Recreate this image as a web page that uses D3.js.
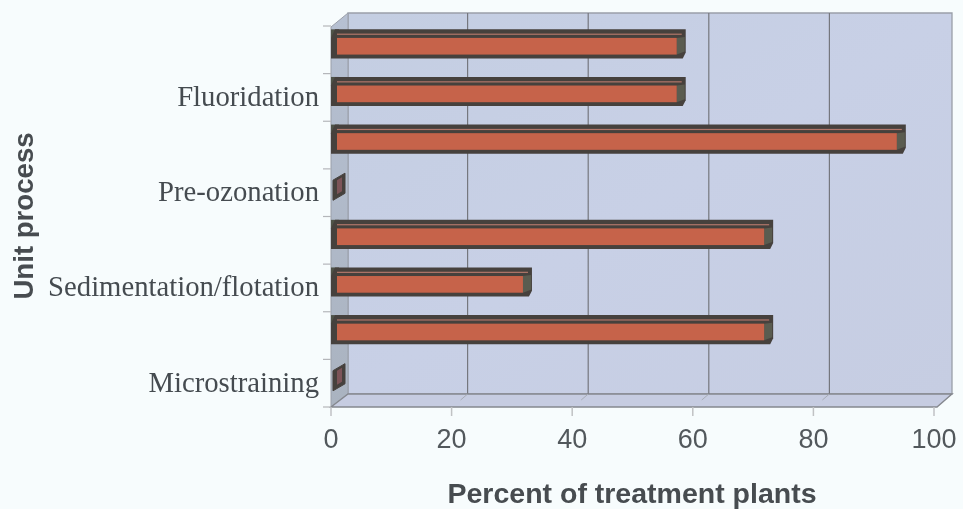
<!DOCTYPE html>
<html><head><meta charset="utf-8">
<script src="https://cdn.jsdelivr.net/npm/d3@7"></script>
<style>html,body{margin:0;padding:0;background:#f7fcfd}svg{display:block;filter:blur(0.45px)}</style>
</head><body><svg id="c" width="963" height="509"></svg>
<script>
const rows = ["r1","Fluoridation","r3","Pre-ozonation","r5","Sedimentation/flotation","r7","Microstraining"];
const labels = ["","Fluoridation","","Pre-ozonation","","Sedimentation/flotation","","Microstraining"];
const values = [57.5,57.5,94,0,72,32,72,0];
const xTicks = [0,20,40,60,80,100];
const xTitle = "Percent of treatment plants";
const yTitle = "Unit process";

const svg = d3.select("#c");
const x = d3.scaleLinear().domain([0,100]).range([331,934]);
const y = d3.scaleBand().domain(rows).range([26,407]);
const depthX = 17, depthY = 13;
const wallTop = 13, floorY = 407, wallRight = 952;
const defs = svg.append("defs");
const g1 = defs.append("linearGradient").attr("id","wall").attr("x1",0).attr("y1",0).attr("x2",1).attr("y2",1);
g1.append("stop").attr("offset",0).attr("stop-color","#c4cee2");
g1.append("stop").attr("offset",0.5).attr("stop-color","#c8d0e6");
g1.append("stop").attr("offset",1).attr("stop-color","#c6cde2");
const g2 = defs.append("linearGradient").attr("id","side").attr("x1",0).attr("y1",0).attr("x2",0).attr("y2",1);
g2.append("stop").attr("offset",0).attr("stop-color","#b6c0d2");
g2.append("stop").attr("offset",1).attr("stop-color","#aab3c0");

const poly = (pts,fill,stroke,sw) => svg.append("polygon").attr("points",pts.map(p=>p.join(",")).join(" "))
  .attr("fill",fill).attr("stroke",stroke||"none").attr("stroke-width",sw||0);
const x0 = x(0);
// walls and floor
poly([[x0+depthX,wallTop],[wallRight,wallTop],[wallRight,floorY-depthY],[x0+depthX,floorY-depthY]],"url(#wall)","#9a9fa9",1.3);
poly([[x0,wallTop+14],[x0+depthX,wallTop],[x0+depthX,floorY-depthY],[x0,floorY]],"url(#side)","#9a9fa9",1);
poly([[x0,floorY],[x0+depthX,floorY-depthY],[wallRight,floorY-depthY],[wallRight-15,floorY]],"#c6cce1","#85888f",1.4);
// gridlines
xTicks.slice(1,5).forEach(t=>{
  svg.append("line").attr("x1",x(t)+16).attr("x2",x(t)+16).attr("y1",wallTop).attr("y2",floorY-depthY).attr("stroke","#75777e").attr("stroke-width",1.2);
  svg.append("line").attr("x1",x(t)+16).attr("x2",x(t)+9).attr("y1",floorY-depthY).attr("y2",floorY-depthY+6).attr("stroke","#a8acb6").attr("stroke-width",1);
});
// ticks
xTicks.forEach(t=>svg.append("line").attr("x1",x(t)).attr("x2",x(t)).attr("y1",floorY).attr("y2",floorY+9).attr("stroke","#c0c2c4").attr("stroke-width",1.5));
d3.range(rows.length+1).forEach(i=>{
  const yy = i<rows.length ? y(rows[i]) : floorY;
  svg.append("line").attr("x1",x0-8).attr("x2",x0).attr("y1",yy).attr("y2",yy).attr("stroke","#b4b6ba").attr("stroke-width",1.2);
});
// bars
const dark = "#46413d", orange = "#c6634a";
rows.forEach((r,i)=>{
  const v = values[i], b = y(r), h = y.bandwidth();
  const t0 = b+h*0.07, f0 = b+h*0.25, f1 = b+h*0.6, f2 = b+h*0.64;
  if (v===0){
    const yA = b+h*0.09, yB = b+h*0.66;
    poly([[x0+2,yA+7],[x0+14,yA],[x0+14,yB-7],[x0+2,yB]],dark,dark,1);
    poly([[x0+6,yA+7],[x0+11,yA+4],[x0+11,yB-9],[x0+6,yB-6]],"#7d5458");
    return;
  }
  const xe = x(v);
  // left stub, top, cap, bottom
  svg.append("rect").attr("x",x0).attr("y",t0).attr("width",8).attr("height",f2-t0).attr("fill","#4f5348");
  poly([[x0,f0],[x0+4,t0],[xe+8,t0],[xe+8,f1-2],[xe+5,f2+2],[xe,f2+2],[x0,f2+2],[x0,f1]],dark);
  // light stripe on the top face
  svg.append("rect").attr("x",x0+6).attr("y",t0+h*0.09).attr("width",xe-x0-2).attr("height",1.2).attr("fill","#b0766a");
  // end cap
  poly([[xe-1,f0],[xe+7,f0-1],[xe+7,f1-3],[xe-1,f1]],"#5a5c50");
  // front face
  svg.append("rect").attr("x",x0+6).attr("y",f0).attr("width",xe-x0-7).attr("height",f1-f0).attr("fill",orange);
});
// text
const tc = svg.append("g");
rows.forEach((r,i)=>{
  if(!labels[i]) return;
  tc.append("text").attr("x",319).attr("y",y(r)+y.bandwidth()/2+8.5).attr("text-anchor","end")
    .attr("font-family","Liberation Serif").attr("font-size",28.7).attr("fill","#454b50").text(labels[i]);
});
xTicks.forEach(t=>tc.append("text").attr("x",x(t)).attr("y",448).attr("text-anchor","middle")
  .attr("font-family","Liberation Sans").attr("font-size",27).attr("fill","#52585c").text(t));
tc.append("text").attr("x",632).attr("y",503).attr("text-anchor","middle").attr("font-family","Liberation Sans")
  .attr("font-weight","bold").attr("font-size",28.5).attr("fill","#474c50").text(xTitle);
tc.append("text").attr("transform","translate(33,216) rotate(-90)").attr("text-anchor","middle").attr("font-family","Liberation Sans")
  .attr("font-weight","bold").attr("font-size",27.6).attr("fill","#474c50").text(yTitle);
</script></body></html>
